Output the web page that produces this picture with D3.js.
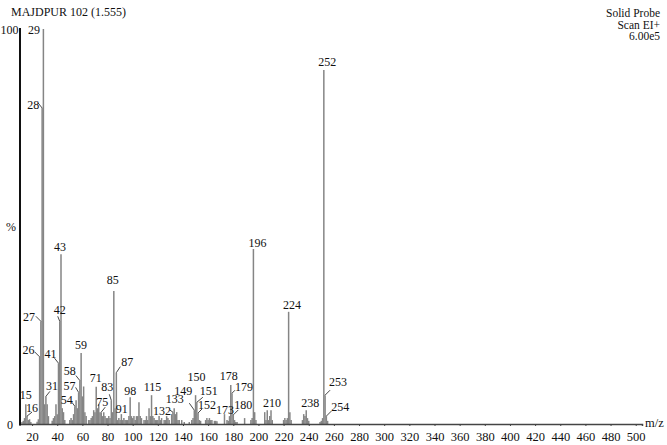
<!DOCTYPE html>
<html>
<head>
<meta charset="utf-8">
<script src="https://cdn.jsdelivr.net/npm/d3@7"></script>
<style>
  html, body { margin: 0; padding: 0; background: #fff; }
  svg { display: block; }
  text { font-family: "Liberation Serif", "Times New Roman", serif; fill: #111; }
</style>
</head>
<body>
<svg id="chart" width="667" height="445"></svg>
<script>
// ---------- data ----------
const title = "MAJDPUR 102 (1.555)";
const infoLines = ["Solid Probe", "Scan EI+", "6.00e5"];
const xTicks = [20, 40, 60, 80, 100, 120, 140, 160, 180, 200, 220, 240, 260, 280, 300, 320, 340, 360, 380, 400, 420, 440, 460, 480, 500];
const yLabels = ["100", "%", "0"];

const peakMz = [12, 13, 14, 15, 16, 17, 18, 19, 24, 25, 26, 27, 28, 29, 30, 31, 32, 33, 36, 37, 38, 39, 40, 41, 42, 43, 44, 45, 46,
  50, 51, 52, 53, 54, 55, 56, 57, 58, 59, 60, 61, 62, 63, 65, 66, 67, 68, 69, 70, 71, 72, 73, 74, 75, 76, 77, 78, 79, 80,
  81, 82, 83, 84, 85, 86, 87, 88, 89, 90, 91, 92, 93, 94, 95, 96, 97, 98, 99, 100, 101, 102, 103, 104, 105, 106, 107, 109, 110,
  111, 112, 113, 114, 115, 116, 117, 118, 119, 120, 121, 122, 123, 125, 126, 127, 128, 129, 131, 132, 133, 134, 135, 136, 137, 139,
  141, 145, 147, 148, 149, 150, 151, 152, 153, 154, 158, 159, 160, 161, 162, 163, 165, 166, 167, 173, 175, 176, 177, 178, 179, 180,
  181, 182, 183, 189, 194, 195, 196, 197, 198, 205, 206, 207, 208, 209, 210, 211, 220, 221, 222, 223, 224, 225, 226,
  235, 236, 237, 238, 239, 240, 249, 250, 251, 252, 253, 254, 255];
const peakIntensity = [0.5, 0.8, 1.5, 5, 2, 1, 1.2, 0.5, 0.6, 1.2, 17, 26, 80, 100, 5, 7, 5, 2, 0.8, 1.5, 2, 5, 2.5, 15.4, 26, 43, 4, 3, 1,
  1, 1.5, 1, 2.5, 4.5, 6, 4, 8, 11, 18, 7, 9.5, 3, 2, 1, 1, 1.5, 2, 3.5, 3, 9.4, 4, 5, 3, 3, 2, 3, 2, 1.5, 1.5,
  2, 1.5, 6, 3, 33.7, 4, 13, 1, 1.5, 1, 2.5, 1, 1.5, 1, 1, 1, 2, 6.8, 2, 1.5, 2, 1, 2, 2, 5.5, 2, 1.5, 1, 1,
  2, 1, 4, 2, 7.3, 2, 1.5, 1, 1, 1, 2, 1, 1.5, 1, 1, 2, 1.5, 1, 2.5, 3, 4, 2.5, 3, 1, 1, 1,
  0.5, 0.5, 1, 1.5, 3.5, 7.3, 5.5, 2.8, 1, 0.8, 1, 1.5, 1, 1.5, 1, 1, 0.8, 0.8, 0.7, 2.5, 1, 0.8, 2, 9.9, 7.8, 2.3,
  1, 0.5, 0.5, 1.5, 1, 1.5, 44.3, 3, 1, 3, 1, 3.5, 1, 2, 3.5, 1, 1, 1.5, 1, 1.5, 28.4, 3, 1,
  1, 2.5, 2, 3.5, 1.5, 0.8, 0.5, 0.8, 1.5, 89.6, 7.3, 2, 0.8];

const labeledMz = [15, 16, 26, 27, 28, 29, 31, 41, 42, 43, 54, 57, 58, 59, 71, 75, 83, 85, 87, 91, 98, 115, 132, 133,
  149, 150, 151, 152, 173, 178, 179, 180, 196, 210, 224, 238, 252, 253, 254];

// annotation layout (px): [text dx, text dy, leader start dx, leader start dy] relative to peak top
const labelLayout = {
  15: [0, -9, 0, 0], 16: [5, -8, 5, -4], 26: [-11, -7, -5, -5], 27: [-12, -5, -5, -5], 28: [-9, -3, -4, -5],
  29: [-9.5, 1, 0, 0], 31: [6, -11, 4, -5], 41: [-8, -9, -4, -5], 42: [0, -12, -2, -5], 43: [-1, -7, 0, 0],
  54: [-8, -6.5, -3, -4], 57: [-9, -7, -3, -5], 58: [-10, -10, -4, -5], 59: [0, -8, 0, 0], 71: [-0.5, -9.5, 0, 0],
  75: [1, -10.5, 4, -5], 83: [-4, -13.5, -2, -6], 85: [-1, -11, 0, 0], 87: [11, -11, 4, -6], 91: [0.5, -5, 0, 0],
  98: [0, -6, 0, 0], 115: [1, -8, 0, 0], 132: [-11, -1, -3, -2], 133: [0.5, -9.5, 0, 0], 149: [-11, -19, -5, -7],
  150: [1, -18, 0, 0], 151: [12, -11.5, 6, -5], 152: [9, -8.5, 4, -4], 173: [0.5, -4, 0, 0], 178: [-2, -9, 0, 0],
  179: [12, -6, 3, -3], 180: [10, -10.5, 5, -5], 196: [4, -6, 0, 0], 210: [1, -7, 0, 0], 224: [3.5, -7, 0, 0],
  238: [4, -7, 0, 0], 252: [3.5, -8, 0, 0], 253: [13, -13, 5, -5], 254: [14, -9, 5, -5]
};

// ---------- chart ----------
const svg = d3.select("#chart");
const x = d3.scaleLinear().domain([10, 505]).range([19.5, 642]);
const y = d3.scaleLinear().domain([0, 100]).range([424, 29]);

const peaks = peakMz.map((m, i) => ({ m, v: peakIntensity[i] }));

// title + info
svg.append("text").attr("x", 11).attr("y", 15.5).attr("font-size", 12).text(title);
svg.selectAll("text.info").data(infoLines).enter().append("text")
  .attr("class", "info").attr("x", 660).attr("y", (d, i) => 17 + i * 11.5)
  .attr("text-anchor", "end").attr("font-size", 11.5).text(d => d);

// peaks
svg.append("g").selectAll("line").data(peaks).enter().append("line")
  .attr("x1", d => x(d.m)).attr("x2", d => x(d.m))
  .attr("y1", y(0)).attr("y2", d => y(d.v))
  .attr("stroke", "#858585").attr("stroke-width", 1.5);

// x axis
const xAxis = d3.axisBottom(x).tickValues(xTicks).tickSize(2).tickPadding(6).tickFormat(d3.format("d"));
const gx = svg.append("g").attr("transform", `translate(0,${y(0)})`).call(xAxis);
gx.select(".domain").attr("stroke", "#444").attr("stroke-width", 1.5);
gx.selectAll(".tick line").attr("stroke", "#444");
gx.selectAll(".tick text").attr("font-size", 12.5).attr("font-family", "'Liberation Serif', serif").attr("fill", "#111");
svg.append("text").attr("x", 645).attr("y", 427).attr("font-size", 12.5).text("m/z");

// y axis line
svg.append("line").attr("x1", 20).attr("x2", 20).attr("y1", y(100) - 1).attr("y2", y(0) + 1)
  .attr("stroke", "#111").attr("stroke-width", 2);
const yLabelPos = [100, 50, 0];
const yLabelEnd = [18.5, 16, 13];
svg.selectAll("text.ylab").data(yLabels).enter().append("text")
  .attr("class", "ylab").attr("x", (d, i) => yLabelEnd[i]).attr("y", (d, i) => y(yLabelPos[i]) + 4.5)
  .attr("text-anchor", "end").attr("font-size", 12).text(d => d);

// peak labels + leaders
const labelData = labeledMz.map(m => {
  const i = peakMz.indexOf(m);
  return { m, v: peakIntensity[i], lay: labelLayout[m] };
});
svg.append("g").selectAll("line").data(labelData.filter(d => d.lay[2] !== 0 || d.lay[3] !== 0)).enter()
  .append("line")
  .attr("x1", d => x(d.m) + d.lay[2]).attr("y1", d => y(d.v) + d.lay[3])
  .attr("x2", d => x(d.m)).attr("y2", d => y(d.v))
  .attr("stroke", "#333").attr("stroke-width", 0.9);
svg.append("g").selectAll("text").data(labelData).enter().append("text")
  .attr("x", d => x(d.m) + d.lay[0]).attr("y", d => y(d.v) + d.lay[1] + 4.2)
  .attr("text-anchor", "middle").attr("font-size", 12).text(d => d.m);
</script>
</body>
</html>
